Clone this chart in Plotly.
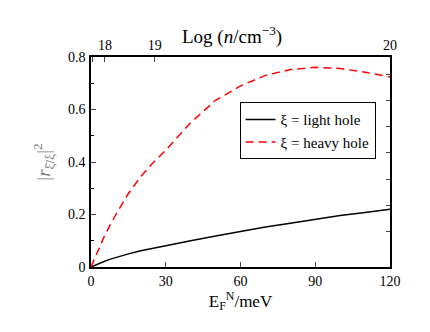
import plotly.graph_objects as go

# Fermi energy E_F^N (meV)
energy = [0, 2.5, 5, 7.5, 10, 15, 20, 25, 30, 40, 50, 60, 70, 80, 90, 100, 110, 120]
# |r|^2 for the two hole bands
light_hole = [0, 0.011, 0.020, 0.029, 0.037, 0.050, 0.062, 0.072, 0.082, 0.100,
              0.118, 0.136, 0.152, 0.167, 0.182, 0.196, 0.208, 0.220]
heavy_hole = [0, 0.058, 0.11, 0.157, 0.20, 0.28, 0.345, 0.398, 0.445, 0.550,
              0.635, 0.690, 0.730, 0.752, 0.761, 0.756, 0.742, 0.724]

# top axis: Log(n/cm^-3) marks, placed on the energy scale
top_tick_pos = [0.6, 5.6, 25.6, 120]
top_tick_text = ['', '18', '19', '20']

# unlabelled ticks on the right frame
right_ticks = [0.135, 0.235, 0.335, 0.435, 0.535, 0.635, 0.735]

serif = 'Liberation Serif, Times New Roman, DejaVu Serif, serif'

fig = go.Figure()
fig.add_trace(go.Scatter(x=energy, y=light_hole, mode='lines', name='ξ = light hole',
                         line=dict(color='black', width=1.5)))
fig.add_trace(go.Scatter(x=energy, y=heavy_hole, mode='lines', name='ξ = heavy hole',
                         line=dict(color='red', width=1.5, dash='8px,5px')))
# invisible helpers so the extra axes get drawn
fig.add_trace(go.Scatter(x=[0, 120], y=[0, 0], xaxis='x2', mode='lines', showlegend=False,
                         hoverinfo='skip', line=dict(width=0)))
fig.add_trace(go.Scatter(x=[0, 120], y=[0, 0], yaxis='y3', mode='lines', showlegend=False,
                         hoverinfo='skip', line=dict(width=0)))

# page has an 8px body margin, so margins are trimmed by 8 on left/top
fig.update_layout(
    width=430, height=332,
    margin=dict(l=83, r=48, t=49, b=73),
    paper_bgcolor='white', plot_bgcolor='white',
    font=dict(family=serif, size=14, color='black'),
    showlegend=True,
    legend=dict(x=0.497, y=0.785, xanchor='left', yanchor='top',
                bordercolor='black', borderwidth=1, bgcolor='white',
                font=dict(family=serif, size=15), tracegroupgap=0, itemwidth=30),
    xaxis=dict(range=[0, 120], tickvals=[0, 30, 60, 90, 120], ticks='inside', ticklen=5,
               showgrid=False, zeroline=False, showline=True, linecolor='black', linewidth=1.5,
               tickfont=dict(family=serif, size=14), automargin=False,
               title=dict(text='E<sub>F</sub><sup>N</sup>/meV', font=dict(family=serif, size=17),
                          standoff=4)),
    xaxis2=dict(range=[0, 120], overlaying='x', side='top', tickvals=top_tick_pos,
                ticktext=top_tick_text, ticks='inside', ticklen=5, showgrid=False,
                zeroline=False, showline=True, linecolor='black', linewidth=1.5,
                tickfont=dict(family=serif, size=14), automargin=False),
    yaxis=dict(range=[0, 0.8], tickvals=[0, 0.2, 0.4, 0.6, 0.8],
               ticktext=['0', '0.2', '0.4', '0.6', '0.8'], ticks='inside', ticklen=5,
               minor=dict(ticks='inside', tickvals=[0.1, 0.3, 0.5, 0.7], ticklen=3,
                          tickcolor='black'),
               showgrid=False, zeroline=False, showline=True, linecolor='black', linewidth=1.5,
               tickfont=dict(family=serif, size=14), ticklabelstandoff=1, automargin=False,
               title=dict(text='|<i>r</i><sub>ξ̄/ξ</sub>|<sup>2</sup>',
                          font=dict(family=serif, size=19, color='#808080'), standoff=12)),
    yaxis3=dict(range=[0, 0.8], overlaying='y', side='right', tickvals=right_ticks,
                showticklabels=False, ticks='inside', ticklen=4, showgrid=False,
                zeroline=False, showline=True, linecolor='black', linewidth=1.5,
                automargin=False),
)

# top axis title
fig.add_annotation(text='Log (<i>n</i>/cm<sup>−3</sup>)', xref='paper', yref='paper',
                   x=0.47, y=1, xanchor='center', yanchor='bottom', yshift=7,
                   showarrow=False, font=dict(family=serif, size=19))

fig.write_html('out.html')
